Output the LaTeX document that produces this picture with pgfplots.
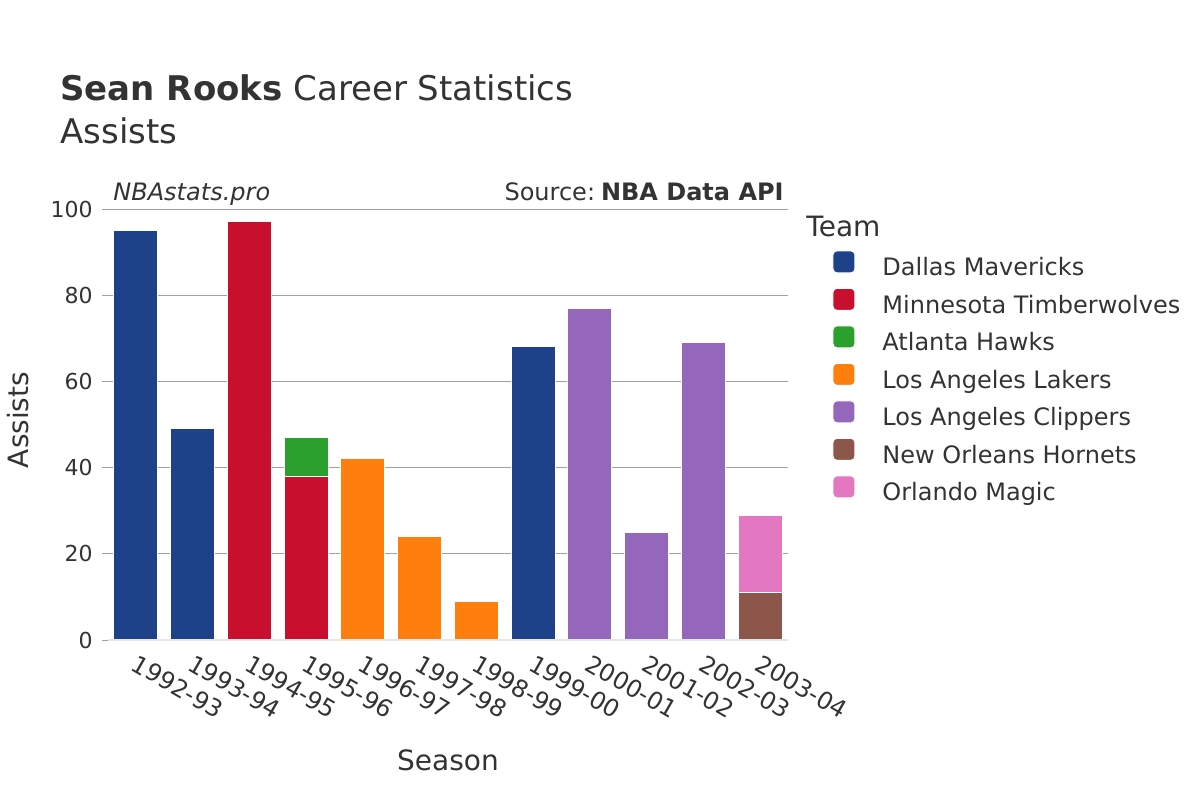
\documentclass[border=0pt]{standalone}
\usepackage{pgfplots}
\pgfplotsset{compat=1.18}
\usepackage{pgfplotstable}
\usepackage{fontspec}
\setmainfont{DejaVu Sans}
\definecolor{txt}{HTML}{333333}
\definecolor{gridc}{HTML}{A0A0A0}
\definecolor{zeroc}{HTML}{E6E6E6}
\definecolor{cDAL}{HTML}{1D428A}
\definecolor{cMIN}{HTML}{C8102E}
\definecolor{cATL}{HTML}{2CA02C}
\definecolor{cLAL}{HTML}{FF7F0E}
\definecolor{cLAC}{HTML}{9467BD}
\definecolor{cNOH}{HTML}{8C564B}
\definecolor{cORL}{HTML}{E377C2}

\pgfplotstableread{
x season  dal min atl lal lac noh orl
0 1992-93 95  0   0   0   0   0   0
1 1993-94 49  0   0   0   0   0   0
2 1994-95 0   97  0   0   0   0   0
3 1995-96 0   38  9   0   0   0   0
4 1996-97 0   0   0   42  0   0   0
5 1997-98 0   0   0   24  0   0   0
6 1998-99 0   0   0   9   0   0   0
7 1999-00 68  0   0   0   0   0   0
8 2000-01 0   0   0   0   77  0   0
9 2001-02 0   0   0   0   25  0   0
10 2002-03 0  0   0   0   69  0   0
11 2003-04 0  0   0   0   0   11  18
}\datatable

\begin{document}
\begin{tikzpicture}
\path[use as bounding box] (0pt,0pt) rectangle (600pt,400pt);
\node[anchor=base west, text=txt, font=\fontsize{17}{20}\selectfont, inner sep=0pt] at (30pt,349.5pt) {\textbf{Sean Rooks} Career Statistics};
\node[anchor=base west, text=txt, font=\fontsize{17}{20}\selectfont, inner sep=0pt] at (30pt,328pt) {Assists};
\begin{axis}[
  at={(53.8pt,80pt)}, anchor=south west,
  scale only axis, width=340.4pt, height=215.5pt,
  ymin=0, ymax=100, xmin=-0.5, xmax=11.5,
  ybar stacked, bar width=22pt,
  axis line style={draw=none},
  ymajorgrids, grid style={color=gridc, line width=0.5pt},
  ytick={0,20,40,60,80,100},
  ytick pos=left,
  xtick=data,
  xticklabels from table={\datatable}{season},
  tick align=outside,
  major tick length=3pt,
  ytick style={draw=gridc, line width=0.5pt},
  xtick style={draw=none},
  /pgf/number format/assume math mode=true,
  yticklabel style={font=\fontsize{11}{13}\selectfont, text=txt, xshift=-1pt},
  xticklabel style={font=\fontsize{12}{14}\selectfont, text=txt, rotate=-30, anchor=north west, inner sep=1pt, yshift=-1.5pt, xshift=2pt},
  legend style={at={(axis description cs:1.0641,0.905)}, anchor=north west, draw=none, fill=none,
    inner sep=0pt, font=\fontsize{12}{14}\selectfont, text=txt,
    nodes={inner sep=0pt, text height=9pt, text depth=3pt},
    row sep=3pt,
    /tikz/every odd column/.append style={column sep=13.5pt}},
  legend cell align=left,
  legend image code/.code={\fill[#1, rounded corners=2pt] (0pt,-1.5pt) rectangle (11pt,9.5pt);},
  every axis plot/.append style={draw=white, line width=0.5pt},
]
\draw[zeroc, line width=1pt] (axis cs:-0.5,0) -- (axis cs:11.5,0);
\addplot[fill=cDAL] table[x=x, y=dal] {\datatable};
\addlegendentry{Dallas Mavericks}
\addplot[fill=cMIN] table[x=x, y=min] {\datatable};
\addlegendentry{Minnesota Timberwolves}
\addplot[fill=cATL] table[x=x, y=atl] {\datatable};
\addlegendentry{Atlanta Hawks}
\addplot[fill=cLAL] table[x=x, y=lal] {\datatable};
\addlegendentry{Los Angeles Lakers}
\addplot[fill=cLAC] table[x=x, y=lac] {\datatable};
\addlegendentry{Los Angeles Clippers}
\addplot[fill=cNOH] table[x=x, y=noh] {\datatable};
\addlegendentry{New Orleans Hornets}
\addplot[fill=cORL] table[x=x, y=orl] {\datatable};
\addlegendentry{Orlando Magic}
\end{axis}
\node[anchor=base west, text=txt, font=\fontsize{12}{14}\selectfont\itshape, inner sep=0pt] at (56.5pt,300pt) {NBAstats.pro};
\node[anchor=base east, text=txt, font=\fontsize{12}{14}\selectfont, inner sep=0pt] at (392pt,300pt) {Source:\hspace{0.25em}\textbf{NBA Data API}};
\node[anchor=base west, text=txt, font=\fontsize{14}{16}\selectfont, inner sep=0pt] at (403pt,282pt) {Team};
\node[rotate=90, text=txt, font=\fontsize{14}{16}\selectfont, inner sep=0pt] at (9pt,190pt) {Assists};
\node[text=txt, font=\fontsize{14}{16}\selectfont, inner sep=0pt] at (224pt,20pt) {Season};
\end{tikzpicture}
\end{document}
